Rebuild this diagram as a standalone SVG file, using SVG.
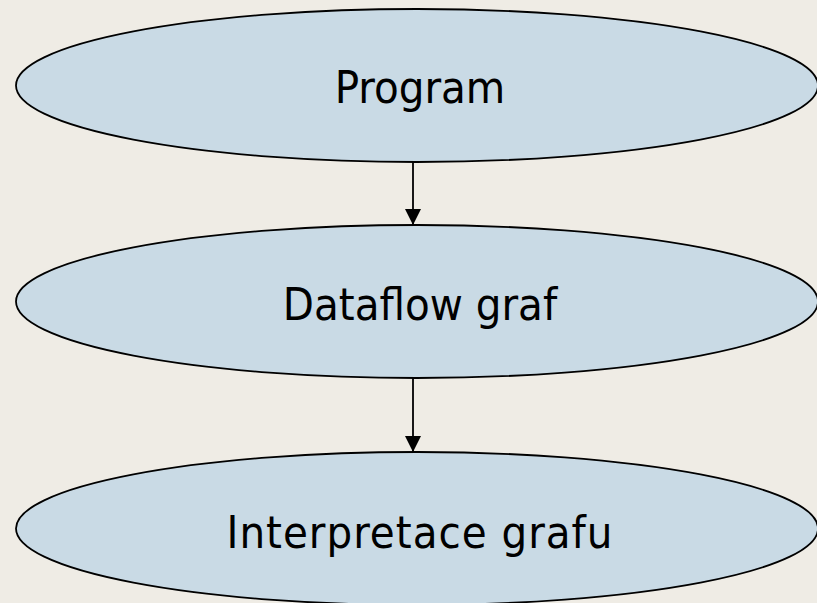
<svg xmlns="http://www.w3.org/2000/svg" width="817" height="603" viewBox="0 0 817 603">
  <defs>
    <style>
      .node ellipse { fill: #c9dae5; stroke: #000000; stroke-width: 1.8; }
      .node text { font-family: "DejaVu Sans Condensed", "DejaVu Sans", Tahoma, sans-serif; font-stretch: condensed; font-size: 45px; fill: #000000; text-anchor: middle; }
      .edge { stroke: #000000; stroke-width: 1.8; fill: none; marker-end: url(#arrow); }
    </style>
    <marker id="arrow" markerUnits="userSpaceOnUse" markerWidth="16" markerHeight="16" refX="16" refY="8" orient="auto">
      <path d="M0,0 L16,8 L0,16 z" fill="#000000"/>
    </marker>
  </defs>

  <rect x="0" y="0" width="817" height="603" fill="#efece5"/>

  <g id="connectors">
    <line class="edge" x1="413" y1="162" x2="413" y2="225"/>
    <line class="edge" x1="413" y1="378" x2="413" y2="452"/>
  </g>

  <g id="node-program" class="node">
    <ellipse cx="417" cy="85.5" rx="401" ry="76.5"/>
    <text x="420" y="103">Program</text>
  </g>

  <g id="node-dataflow" class="node">
    <ellipse cx="417" cy="301.5" rx="401" ry="76.5"/>
    <text x="420" y="320">Dataflow graf</text>
  </g>

  <g id="node-interpretace" class="node">
    <ellipse cx="417" cy="528.5" rx="401" ry="76.5"/>
    <text x="420" y="548" letter-spacing="1">Interpretace grafu</text>
  </g>
</svg>
